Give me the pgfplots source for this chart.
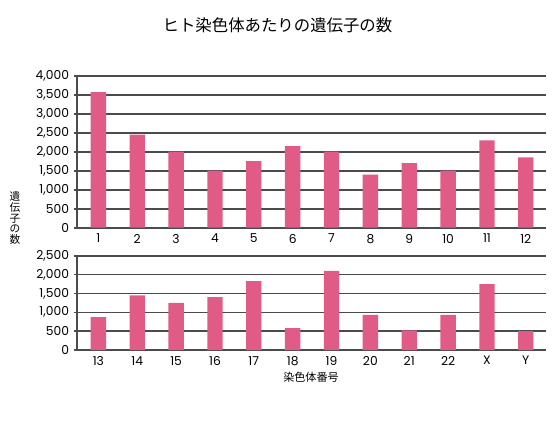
\documentclass[border=0pt]{standalone}
\usepackage{pgfplots}
\pgfplotsset{compat=1.18}
\usepackage{fontspec}
\newfontfamily\jp{Noto Sans CJK JP}
\newfontfamily\tickfont{Poppins}
\definecolor{barpink}{RGB}{224,92,134}
\definecolor{gridgray}{RGB}{75,75,75}

\pgfplotsset{chromo/.style={
  scale only axis, anchor=south west, width=351.75pt,
  ybar, bar width=11.5pt, xmin=0.45, xmax=12.52, ymin=0,
  axis y line=left, axis x line=bottom, axis line style={gridgray, line width=1.2pt, -},
  ymajorgrids, grid style={gridgray, line width=1.2pt},
  xtick={1,...,12}, xtick style={draw=none},
  ytick style={gridgray, line width=1.2pt}, tick align=outside, major tick length=2.5pt,
  scaled y ticks=false,
  /pgf/number format/assume math mode=true,
  tick label style={font=\tickfont\fontsize{9.2}{10}\selectfont},
  xticklabel style={yshift=1.3pt},
  clip=false,
}}

\begin{document}
\begin{tikzpicture}
\path (0,0) rectangle (416.25pt,322.5pt);

\node[font=\jp\fontsize{12.3}{15}\selectfont] at (208.1pt,303.2pt) {ヒト染色体あたりの遺伝子の数};
\node[font=\jp\fontsize{8}{8}\selectfont, align=center] at (11.25pt,159pt) {遺\\伝\\子\\の\\数};
\node[font=\jp\fontsize{8.3}{10}\selectfont] at (233.25pt,39.75pt) {染色体番号};

% chromosomes 1-12
\begin{axis}[chromo, at={(57.75pt,151.7pt)}, height=114pt,
  ymax=4000, ytick={0,500,...,4000},
  xticklabels={1,2,3,4,5,6,7,8,9,10,11,12}]
\addplot[fill=barpink, draw=none] coordinates {
  (1,3570) (2,2450) (3,2000) (4,1500) (5,1750) (6,2150)
  (7,2000) (8,1400) (9,1700) (10,1500) (11,2300) (12,1850)};
\end{axis}

% chromosomes 13-22, X, Y
\begin{axis}[chromo, at={(57.75pt,60pt)}, height=70.7pt,
  ymax=2500, ytick={0,500,...,2500},
  xticklabels={13,14,15,16,17,18,19,20,21,22,X,Y}]
\addplot[fill=barpink, draw=none] coordinates {
  (1,870) (2,1450) (3,1250) (4,1400) (5,1830) (6,580)
  (7,2100) (8,930) (9,520) (10,930) (11,1750) (12,500)};
\end{axis}
\end{tikzpicture}
\end{document}
